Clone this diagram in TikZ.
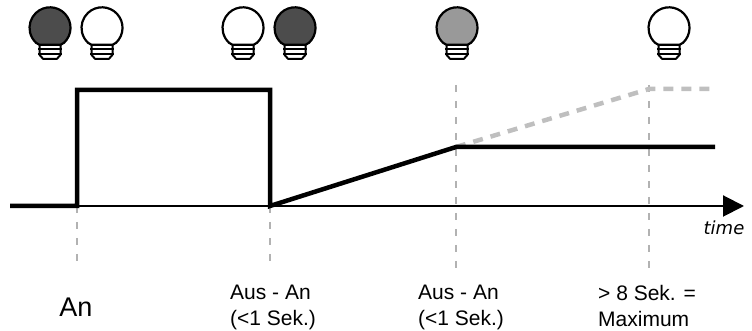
\documentclass[tikz,border=0pt]{standalone}
\usepackage{fontspec}
\setmainfont{Liberation Sans}
\newfontfamily\timefont{DejaVu Sans}
\usetikzlibrary{arrows.meta}
\tikzset{
  pics/bulb/.style={code={
    \draw[line width=2.2pt, fill=#1, line join=round] (14,-15) arc[start angle=-47, end angle=227, radius=20.5] -- (-10.5,-17) -- (10.5,-17) -- cycle;
    \draw[line width=2pt, line join=round] (-10.5,-17) -- (-10.5,-27) -- (-7,-31) -- (7,-31) -- (10.5,-27) -- (10.5,-17);
    \draw[line width=2pt] (-12,-21.5) -- (12,-21.5) (-12,-26) -- (12,-26);
  }}
}
\begin{document}
\begin{tikzpicture}[x=1pt,y=1pt,
  sig/.style={line width=4.5pt, line join=miter},
  axisline/.style={line width=2pt, -{Triangle[length=21pt,width=21pt]}},
  vguide/.style={draw=black!30, line width=1.5pt, dash pattern=on 7pt off 9pt},
  maxline/.style={draw=black!25, line width=4.5pt, dash pattern=on 10pt off 8pt},
  lbl/.style={font=\fontsize{21}{26}\selectfont, align=left, anchor=base west, inner sep=0pt},
]
\useasboundingbox (0,0) rectangle (752,331);
% bulbs
\pic (b1) at (50,303.2) {bulb=black!70};
\pic (b2) at (102,303.2) {bulb=white};
\pic (b3) at (243,303.2) {bulb=white};
\pic (b4) at (295,303.2) {bulb=black!70};
\pic (b5) at (457,303.2) {bulb=black!40};
\pic (b6) at (669,303.2) {bulb=white};
% coordinates
\coordinate (s0) at (10,125);
\coordinate (s1) at (77,125);
\coordinate (s2) at (77,241);
\coordinate (s3) at (270,241);
\coordinate (s4) at (270,125);
\coordinate (s5) at (456,184);
\coordinate (s6) at (715,184);
\coordinate (m1) at (649,242);
\coordinate (m2) at (715,242);
\coordinate (aend) at (744,125);
\coordinate (g1) at (77,61);
\coordinate (g2) at (270,61);
\coordinate (g3t) at (456,246);
\coordinate (g3) at (456,61);
\coordinate (g4t) at (649,246);
\coordinate (g4) at (649,61);
% guides
\draw[vguide] (s1) -- (g1);
\draw[vguide] (s4) -- (g2);
\draw[vguide] (g3t) -- (g3);
\draw[vguide] (g4t) -- (g4);
% axis
\draw[axisline] (s0) -- (aend);
% maximum (dashed)
\draw[maxline] (s5) -- (m1) -- (m2);
% signal
\draw[sig] (s0) -- (s1) -- (s2) -- (s3) -- (s4) -- (s5) -- (s6);
% labels
\node[font=\timefont\itshape\fontsize{18}{18}\selectfont, anchor=base, inner sep=0pt] (time) at (724,96) {time};
\node[font=\fontsize{27}{27}\selectfont, anchor=base, inner sep=0pt] (l1) at (76,14) {An};
\node[lbl] (l2) at (230,5) {Aus - An\\(<1 Sek.)};
\node[lbl] (l3) at (418,5) {Aus - An\\(<1 Sek.)};
\node[lbl] (l4) at (598,4) {> 8 Sek. =\\Maximum};
\end{tikzpicture}
\end{document}
